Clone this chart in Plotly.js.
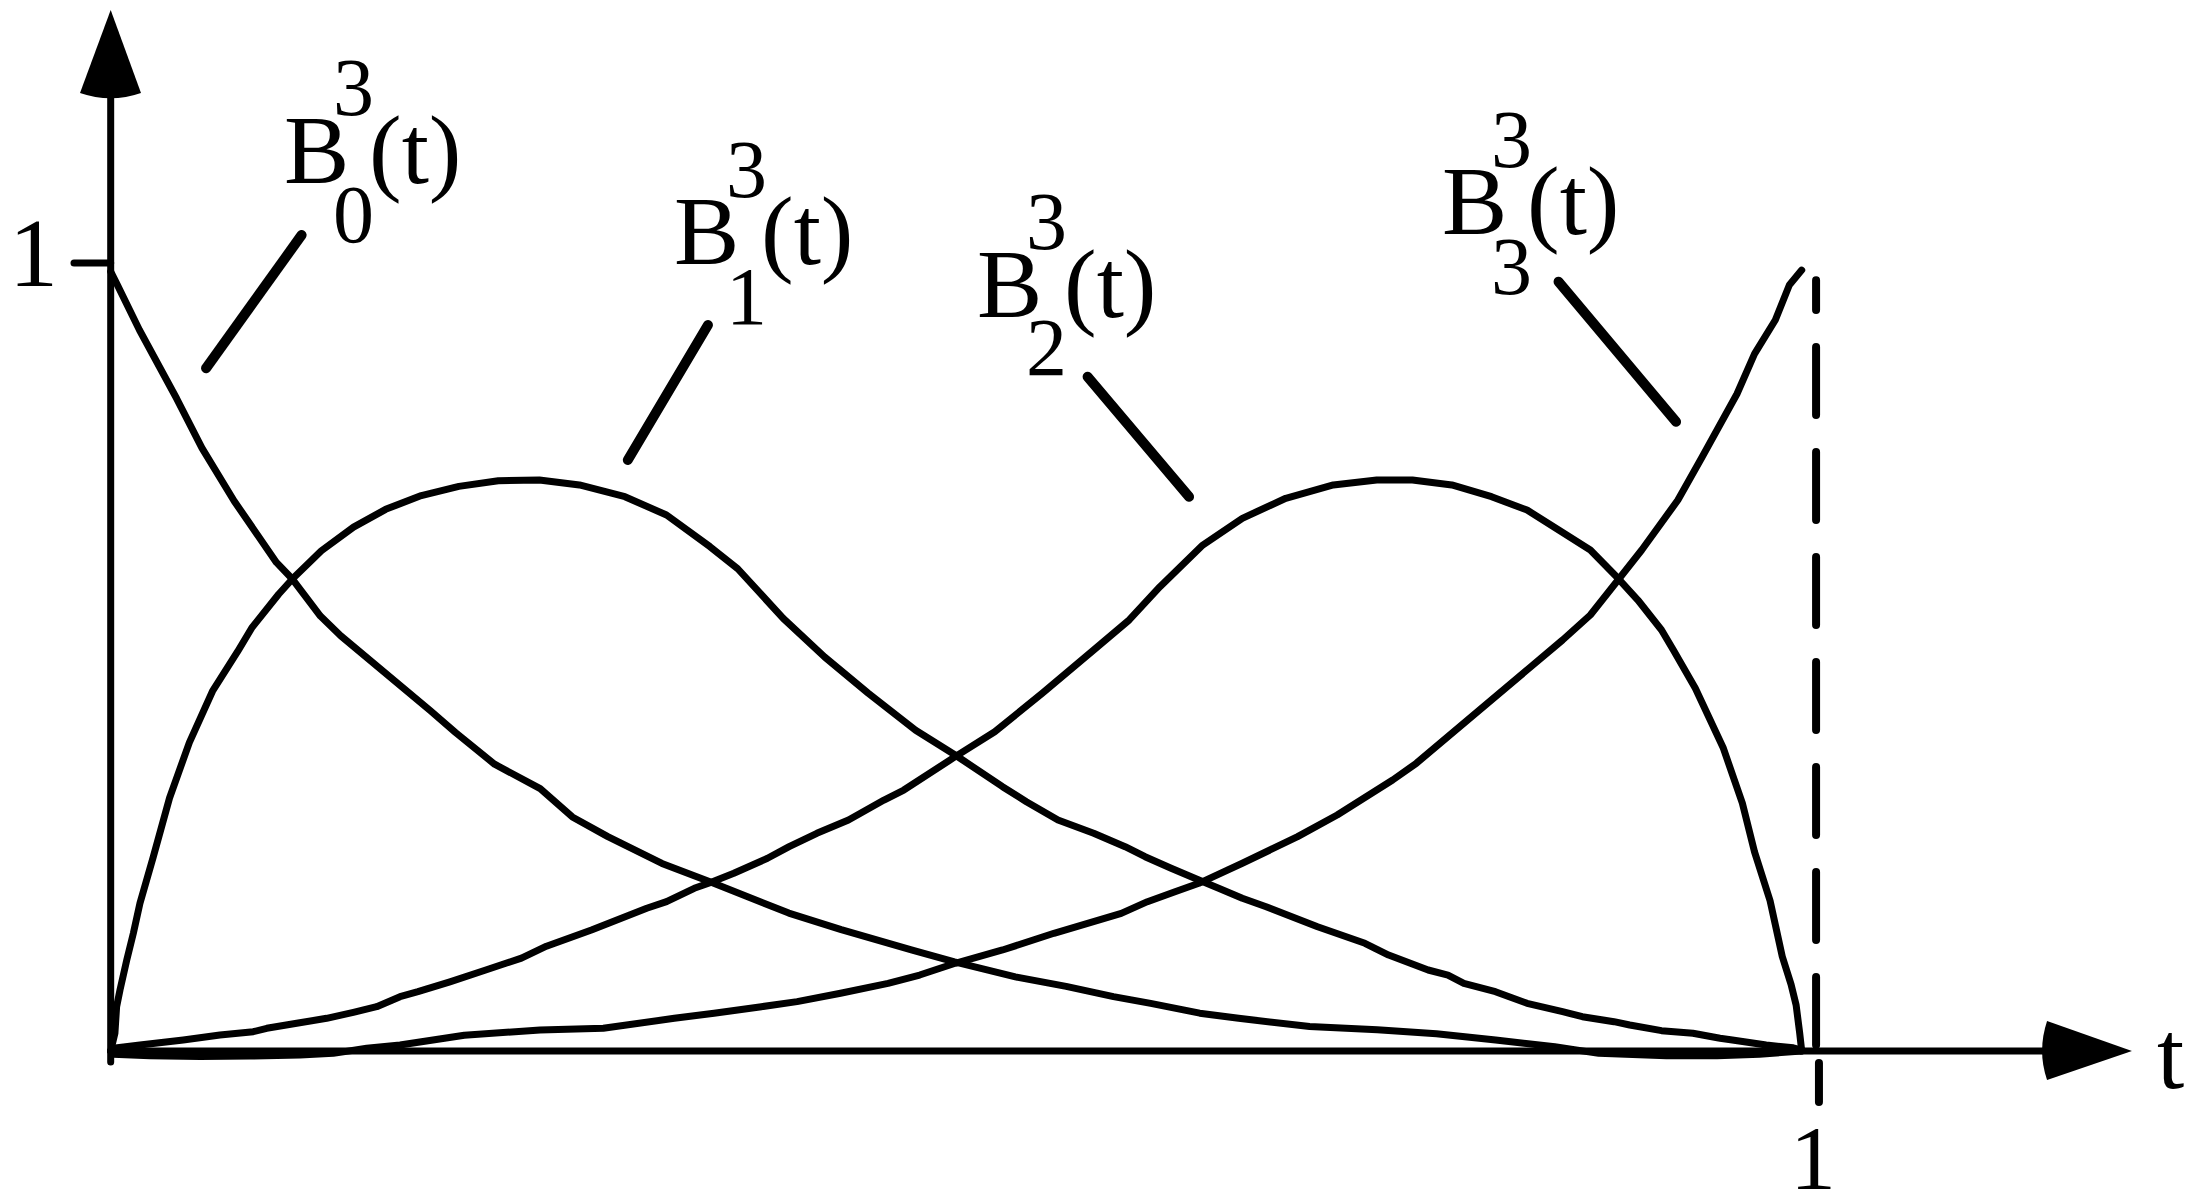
<!DOCTYPE html>
<html>
<head>
<meta charset="utf-8">
<script src="https://cdn.plot.ly/plotly-3.0.1.min.js"></script>
<style>
  html, body { margin: 0; padding: 0; background: #fff; }
  #chart { width: 2196px; height: 1198px; }
  #chart .js-line, #chart .shapelayer path { stroke-linecap: round; stroke-linejoin: round; }
</style>
</head>
<body>
<div id="chart"></div>
<script>
// Cubic Bernstein basis functions B_i^3(t) on 0 <= t <= 1
const b0T = [0, 0.004, 0.017, 0.039, 0.054, 0.073, 0.098, 0.107, 0.124, 0.136, 0.189, 0.204, 0.227, 0.254, 0.273, 0.294, 0.326, 0.354, 0.401, 0.432, 0.474, 0.499, 0.535, 0.565, 0.593, 0.615, 0.644, 0.667, 0.709, 0.749, 0.784, 0.819, 0.854, 0.88, 0.92, 0.95, 0.975, 1.0];
const b0V = [0.989, 0.972, 0.915, 0.828, 0.765, 0.698, 0.62, 0.6, 0.552, 0.527, 0.432, 0.404, 0.364, 0.333, 0.297, 0.272, 0.238, 0.215, 0.175, 0.154, 0.128, 0.113, 0.094, 0.082, 0.069, 0.0605, 0.048, 0.0415, 0.031, 0.027, 0.022, 0.014, 0.0055, -0.003, -0.006, -0.006, -0.004, 0];

const b1T = [0, 0.0025, 0.0035, 0.0055, 0.0095, 0.0134, 0.0173, 0.0252, 0.0348, 0.0465, 0.0602, 0.075, 0.0834, 0.0993, 0.1077, 0.1246, 0.1436, 0.1626, 0.1837, 0.2059, 0.2292, 0.2535, 0.2772, 0.3041, 0.3287, 0.3544, 0.3708, 0.3977, 0.4222, 0.448, 0.476, 0.4994, 0.5274, 0.5415, 0.5602, 0.5813, 0.5999, 0.6117, 0.6271, 0.6435, 0.6552, 0.6692, 0.6833, 0.7137, 0.7417, 0.7557, 0.7791, 0.7908, 0.8002, 0.8189, 0.8376, 0.8586, 0.8703, 0.889, 0.8983, 0.9171, 0.9357, 0.9517, 0.959, 0.979, 0.995, 1.0];
const b1V = [0, 0.0225, 0.0562, 0.0774, 0.1155, 0.1494, 0.1874, 0.2466, 0.3211, 0.3914, 0.4566, 0.5067, 0.5369, 0.5796, 0.5996, 0.6348, 0.6648, 0.6874, 0.7049, 0.7165, 0.7236, 0.7246, 0.7183, 0.7034, 0.6802, 0.640, 0.612, 0.549, 0.500, 0.454, 0.407, 0.3756, 0.3354, 0.3164, 0.2931, 0.2763, 0.2593, 0.2466, 0.2319, 0.217, 0.2065, 0.1938, 0.1831, 0.1577, 0.1367, 0.1218, 0.1028, 0.0964, 0.0859, 0.0753, 0.0605, 0.0499, 0.0435, 0.0372, 0.033, 0.0258, 0.0225, 0.0161, 0.014, 0.0076, 0.004, 0.001];

const b2T = [0, 0.0015, 0.0173, 0.0429, 0.0646, 0.0843, 0.0923, 0.11, 0.1277, 0.1435, 0.1573, 0.1711, 0.1817, 0.2006, 0.2218, 0.2429, 0.2577, 0.2843, 0.317, 0.3287, 0.3451, 0.3544, 0.3685, 0.3884, 0.4012, 0.4176, 0.4363, 0.4573, 0.469, 0.4994, 0.5228, 0.5509, 0.5813, 0.6023, 0.6205, 0.6458, 0.6692, 0.6949, 0.723, 0.7487, 0.7698, 0.7931, 0.8166, 0.8376, 0.8563, 0.875, 0.8914, 0.9031, 0.9171, 0.9241, 0.9371, 0.9535, 0.9649, 0.9721, 0.9813, 0.9885, 0.9937, 0.9967, 0.9988, 1.0];
const b2V = [0, 0.0034, 0.0076, 0.014, 0.0203, 0.0245, 0.0288, 0.0352, 0.0415, 0.0491, 0.0562, 0.0689, 0.0753, 0.0878, 0.1028, 0.1179, 0.133, 0.1536, 0.1811, 0.1895, 0.2065, 0.2136, 0.2255, 0.2446, 0.2593, 0.2763, 0.2931, 0.3185, 0.3312, 0.3735, 0.4052, 0.4539, 0.5089, 0.547, 0.5892, 0.6421, 0.676, 0.7014, 0.7183, 0.7246, 0.7246, 0.7183, 0.7034, 0.6865, 0.6612, 0.6358, 0.5999, 0.5723, 0.5343, 0.5089, 0.4603, 0.3852, 0.3145, 0.2527, 0.1907, 0.12, 0.0846, 0.0582, 0.0228, 0];

const b3T = [0, 0.0014, 0.0232, 0.0528, 0.0824, 0.112, 0.1316, 0.1514, 0.1711, 0.2091, 0.2539, 0.2913, 0.3333, 0.3568, 0.3848, 0.4059, 0.4316, 0.4597, 0.4784, 0.4994, 0.5274, 0.5578, 0.5976, 0.6131, 0.6294, 0.6435, 0.6692, 0.7019, 0.7253, 0.7581, 0.7721, 0.8072, 0.8586, 0.875, 0.8914, 0.9054, 0.9268, 0.9412, 0.9617, 0.9721, 0.9844, 0.9927, 1.0];
const b3V = [0, -0.004, -0.006, -0.007, -0.0065, -0.005, -0.003, 0.0034, 0.0076, 0.02, 0.0266, 0.0288, 0.0415, 0.0478, 0.0562, 0.0627, 0.0733, 0.0859, 0.0964, 0.1113, 0.1282, 0.1494, 0.1747, 0.1895, 0.2022, 0.2128, 0.2382, 0.272, 0.2995, 0.3439, 0.3651, 0.4286, 0.5216, 0.5533, 0.5977, 0.6358, 0.6992, 0.7542, 0.8338, 0.8846, 0.9277, 0.9721, 0.991];

const basisIndex = ['0', '1', '2', '3'];
const degreeLabel = '3';
const yTickValue = 1;
const yTickText = '1';
const xTickValue = 1;
const xTickText = '1';
const xAxisTitle = 't';

// ---- drawing ----
const W = 2196, H = 1198;
const SERIF = '"Liberation Serif", "Times New Roman", Times, serif';
const INK = '#000';

const curves = [[b0T, b0V], [b1T, b1V], [b2T, b2V], [b3T, b3V]];
const traces = curves.map(([t, v], i) => ({
  type: 'scatter', mode: 'lines', x: t, y: v,
  name: 'B' + basisIndex[i],
  line: { color: INK, width: 7, shape: 'linear', simplify: false },
  hoverinfo: 'skip'
}));

// label placement for each basis function (pixel positions of the glyph blocks)
const labelPos = [
  { bx: 282.5, by: 149.5, sx: 332, supY: 87.5, subY: 215, px: 368 },
  { bx: 672.5, by: 230.8, sx: 725, supY: 169, subY: 296, px: 760 },
  { bx: 975.5, by: 284, sx: 1025, supY: 221.5, subY: 348, px: 1063 },
  { bx: 1440.5, by: 200.5, sx: 1490, supY: 140, subY: 266.5, px: 1526 }
];
// leader line from each label towards its curve, in axis units
const leaders = [
  [0.1129, 1.0355, 0.0564, 0.8664],
  [0.3532, 0.9213, 0.3058, 0.75],
  [0.5777, 0.8557, 0.6377, 0.7034],
  [0.8562, 0.9763, 0.9257, 0.7986]
];

function note(text, px, py, size, anchor) {
  return {
    xref: 'paper', yref: 'paper', x: px / W, y: 1 - py / H,
    text: text, showarrow: false, borderpad: 0,
    xanchor: anchor || 'left', yanchor: 'middle',
    font: { family: SERIF, size: size, color: INK }
  };
}

const annotations = [];
labelPos.forEach((p, i) => {
  annotations.push(note('B', p.bx, p.by, 98));
  annotations.push(note(degreeLabel, p.sx, p.supY, 82));
  annotations.push(note(basisIndex[i], p.sx, p.subY, 82));
  annotations.push(note('(t)', p.px, p.by, 98));
});
annotations.push(note(yTickText, 33, 253.5, 98, 'center'));
annotations.push(note(xTickText, 1812.5, 1158, 92, 'center'));
annotations.push(note(xAxisTitle, 2170, 1055, 98, 'center'));

const shapes = [];
const seg = (x0, y0, x1, y1, w, dash) => ({
  type: 'line', xref: 'x', yref: 'y', x0, y0, x1, y1,
  line: { color: INK, width: w, dash: dash || 'solid' }
});
// axes
shapes.push(seg(0, -0.014, 0, 1.21, 7));
shapes.push(seg(0, 0, 1.147, 0, 7));
// arrow heads
shapes.push({ type: 'path', xref: 'x', yref: 'y', fillcolor: INK, line: { width: 0 },
  path: 'M 0 1.3211 L 0.01792 1.2157 Q 0 1.2023 -0.01815 1.2157 Z' });
shapes.push({ type: 'path', xref: 'x', yref: 'y', fillcolor: INK, line: { width: 0 },
  path: 'M 1.1953 0 L 1.1451 0.0381 Q 1.1392 0 1.1451 -0.0368 Z' });
// tick at y = 1
shapes.push(seg(-0.0217, yTickValue, 0, yTickValue, 7));
// dashed guide at t = 1
shapes.push(seg(xTickValue + 0.0085, 0.0076, xTickValue + 0.0085, 0.978, 8, '68px,37px'));
shapes.push(seg(xTickValue + 0.0102, -0.0152, xTickValue + 0.0102, -0.0647, 8));
// leaders
leaders.forEach(l => shapes.push(seg(l[0], l[1], l[2], l[3], 10)));

const layout = {
  width: W, height: H,
  margin: { l: 0, r: 0, t: 0, b: 0, pad: 0 },
  paper_bgcolor: '#fff', plot_bgcolor: '#fff',
  showlegend: false,
  xaxis: { range: [-0.06546, 1.23317], visible: false, fixedrange: true },
  yaxis: { range: [-0.18655, 1.33376], visible: false, fixedrange: true },
  shapes: shapes,
  annotations: annotations
};

Plotly.newPlot('chart', traces, layout, { staticPlot: true, displayModeBar: false });
</script>
</body>
</html>
